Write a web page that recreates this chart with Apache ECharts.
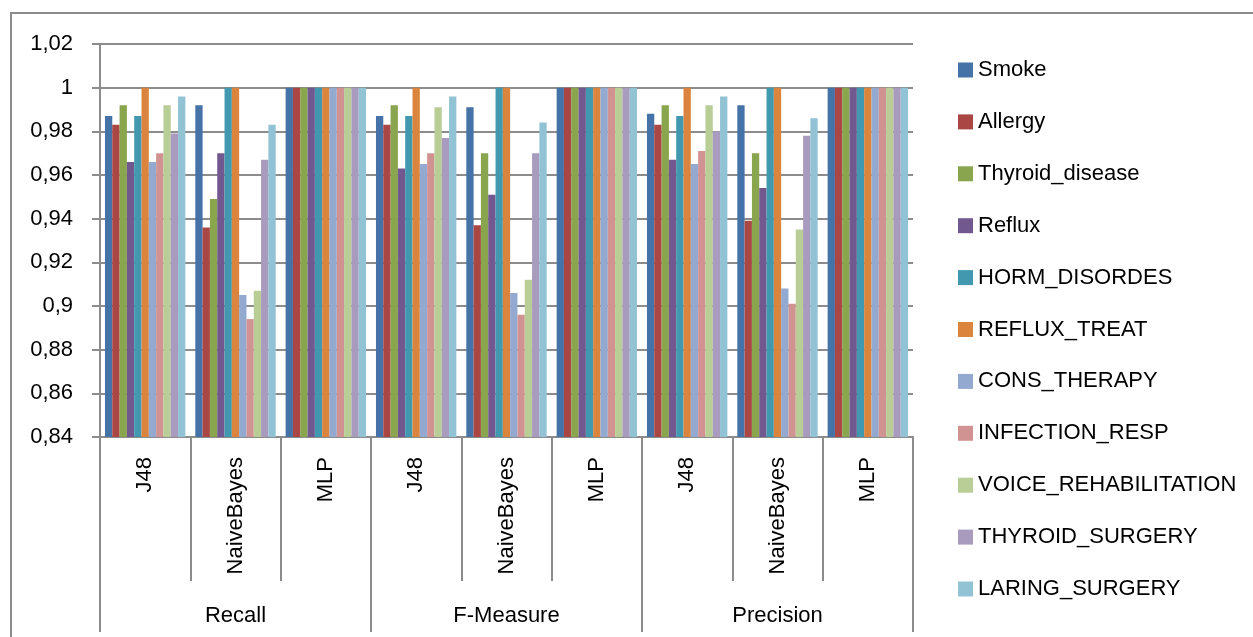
<!DOCTYPE html>
<html>
<head>
<meta charset="utf-8">
<script src="https://cdn.jsdelivr.net/npm/echarts@6/dist/echarts.min.js"></script>
<style>
html,body{margin:0;padding:0;background:#fff;}
#chart{position:absolute;left:0;top:0;width:1253px;height:637px;}
#frame{position:absolute;left:10px;top:12px;width:1300px;height:700px;border-left:2px solid #8c8c8c;border-top:2px solid #8c8c8c;pointer-events:none;}
</style>
</head>
<body>
<div id="chart"></div>
<div id="frame"></div>
<script>
const methods = ['J48','NaiveBayes','MLP','J48','NaiveBayes','MLP','J48','NaiveBayes','MLP'];
const groups = ['Recall','F-Measure','Precision'];
const seriesNames = ['Smoke','Allergy','Thyroid_disease','Reflux','HORM_DISORDES','REFLUX_TREAT','CONS_THERAPY','INFECTION_RESP','VOICE_REHABILITATION','THYROID_SURGERY','LARING_SURGERY'];
const colors = ['#4572A7','#AA4643','#89A54E','#71588F','#4198AF','#DB843D','#93A9CF','#D19392','#B9CD96','#A99BBD','#92C3D4'];
// values per series across the 9 categories
const smoke        = [0.987,0.992,1, 0.987,0.991,1, 0.988,0.992,1];
const allergy      = [0.983,0.936,1, 0.983,0.937,1, 0.983,0.939,1];
const thyroid      = [0.992,0.949,1, 0.992,0.970,1, 0.992,0.970,1];
const reflux       = [0.966,0.970,1, 0.963,0.951,1, 0.967,0.954,1];
const horm         = [0.987,1,1,     0.987,1,1,     0.987,1,1];
const refluxTreat  = [1,1,1,         1,1,1,         1,1,1];
const consTherapy  = [0.966,0.905,1, 0.965,0.906,1, 0.965,0.908,1];
const infection    = [0.970,0.894,1, 0.970,0.896,1, 0.971,0.901,1];
const voice        = [0.992,0.907,1, 0.991,0.912,1, 0.992,0.935,1];
const thyroidSurg  = [0.979,0.967,1, 0.977,0.970,1, 0.980,0.978,1];
const laring       = [0.996,0.983,1, 0.996,0.984,1, 0.996,0.986,1];
const allValues = [smoke,allergy,thyroid,reflux,horm,refluxTreat,consTherapy,infection,voice,thyroidSurg,laring];
const yMin = 0.84, yMax = 1.02, yStep = 0.02;

const FONT = 'Liberation Sans';
const GRAY = '#8c8c8c';
const chart = echarts.init(document.getElementById('chart'));
chart.setOption({
  animation:false,
  textStyle:{fontFamily:FONT},
  grid:{left:100,right:340,top:44,bottom:200},
  legend:{
    orient:'vertical', left:958, top:57, padding:0,
    itemWidth:15, itemHeight:15, itemGap:25.9,
    icon:'rect',
    textStyle:{fontFamily:FONT,fontSize:22,color:'#000',lineHeight:26},
    data:seriesNames
  },
  xAxis:[{
    type:'category', data:methods, position:'bottom',
    axisLine:{show:true,lineStyle:{color:GRAY,width:2}},
    axisTick:{show:true,length:144,interval:0,lineStyle:{color:GRAY,width:2}},
    axisLabel:{rotate:90,interval:0,margin:20,fontFamily:FONT,fontSize:22,color:'#000'}
  },{
    type:'category', data:groups, position:'bottom',
    axisLine:{show:false},
    axisTick:{show:true,length:195,interval:0,lineStyle:{color:GRAY,width:2}},
    axisLabel:{interval:0,margin:168,fontFamily:FONT,fontSize:22,color:'#000'}
  }],
  yAxis:{
    type:'value', min:yMin, max:yMax, interval:yStep,
    axisLine:{show:true,lineStyle:{color:GRAY,width:2}},
    axisTick:{show:true,length:8,lineStyle:{color:GRAY,width:2}},
    splitLine:{show:true,lineStyle:{color:GRAY,width:2}},
    axisLabel:{margin:27,fontFamily:FONT,fontSize:22,color:'#000',
      formatter:v=>String(parseFloat(v.toFixed(2))).replace('.',',')}
  },
  series:seriesNames.map((n,i)=>({
    name:n, type:'bar', xAxisIndex:0, data:allValues[i],
    barGap:'0%', barCategoryGap:'11%',
    itemStyle:{color:colors[i]}
  }))
});
</script>
</body>
</html>
